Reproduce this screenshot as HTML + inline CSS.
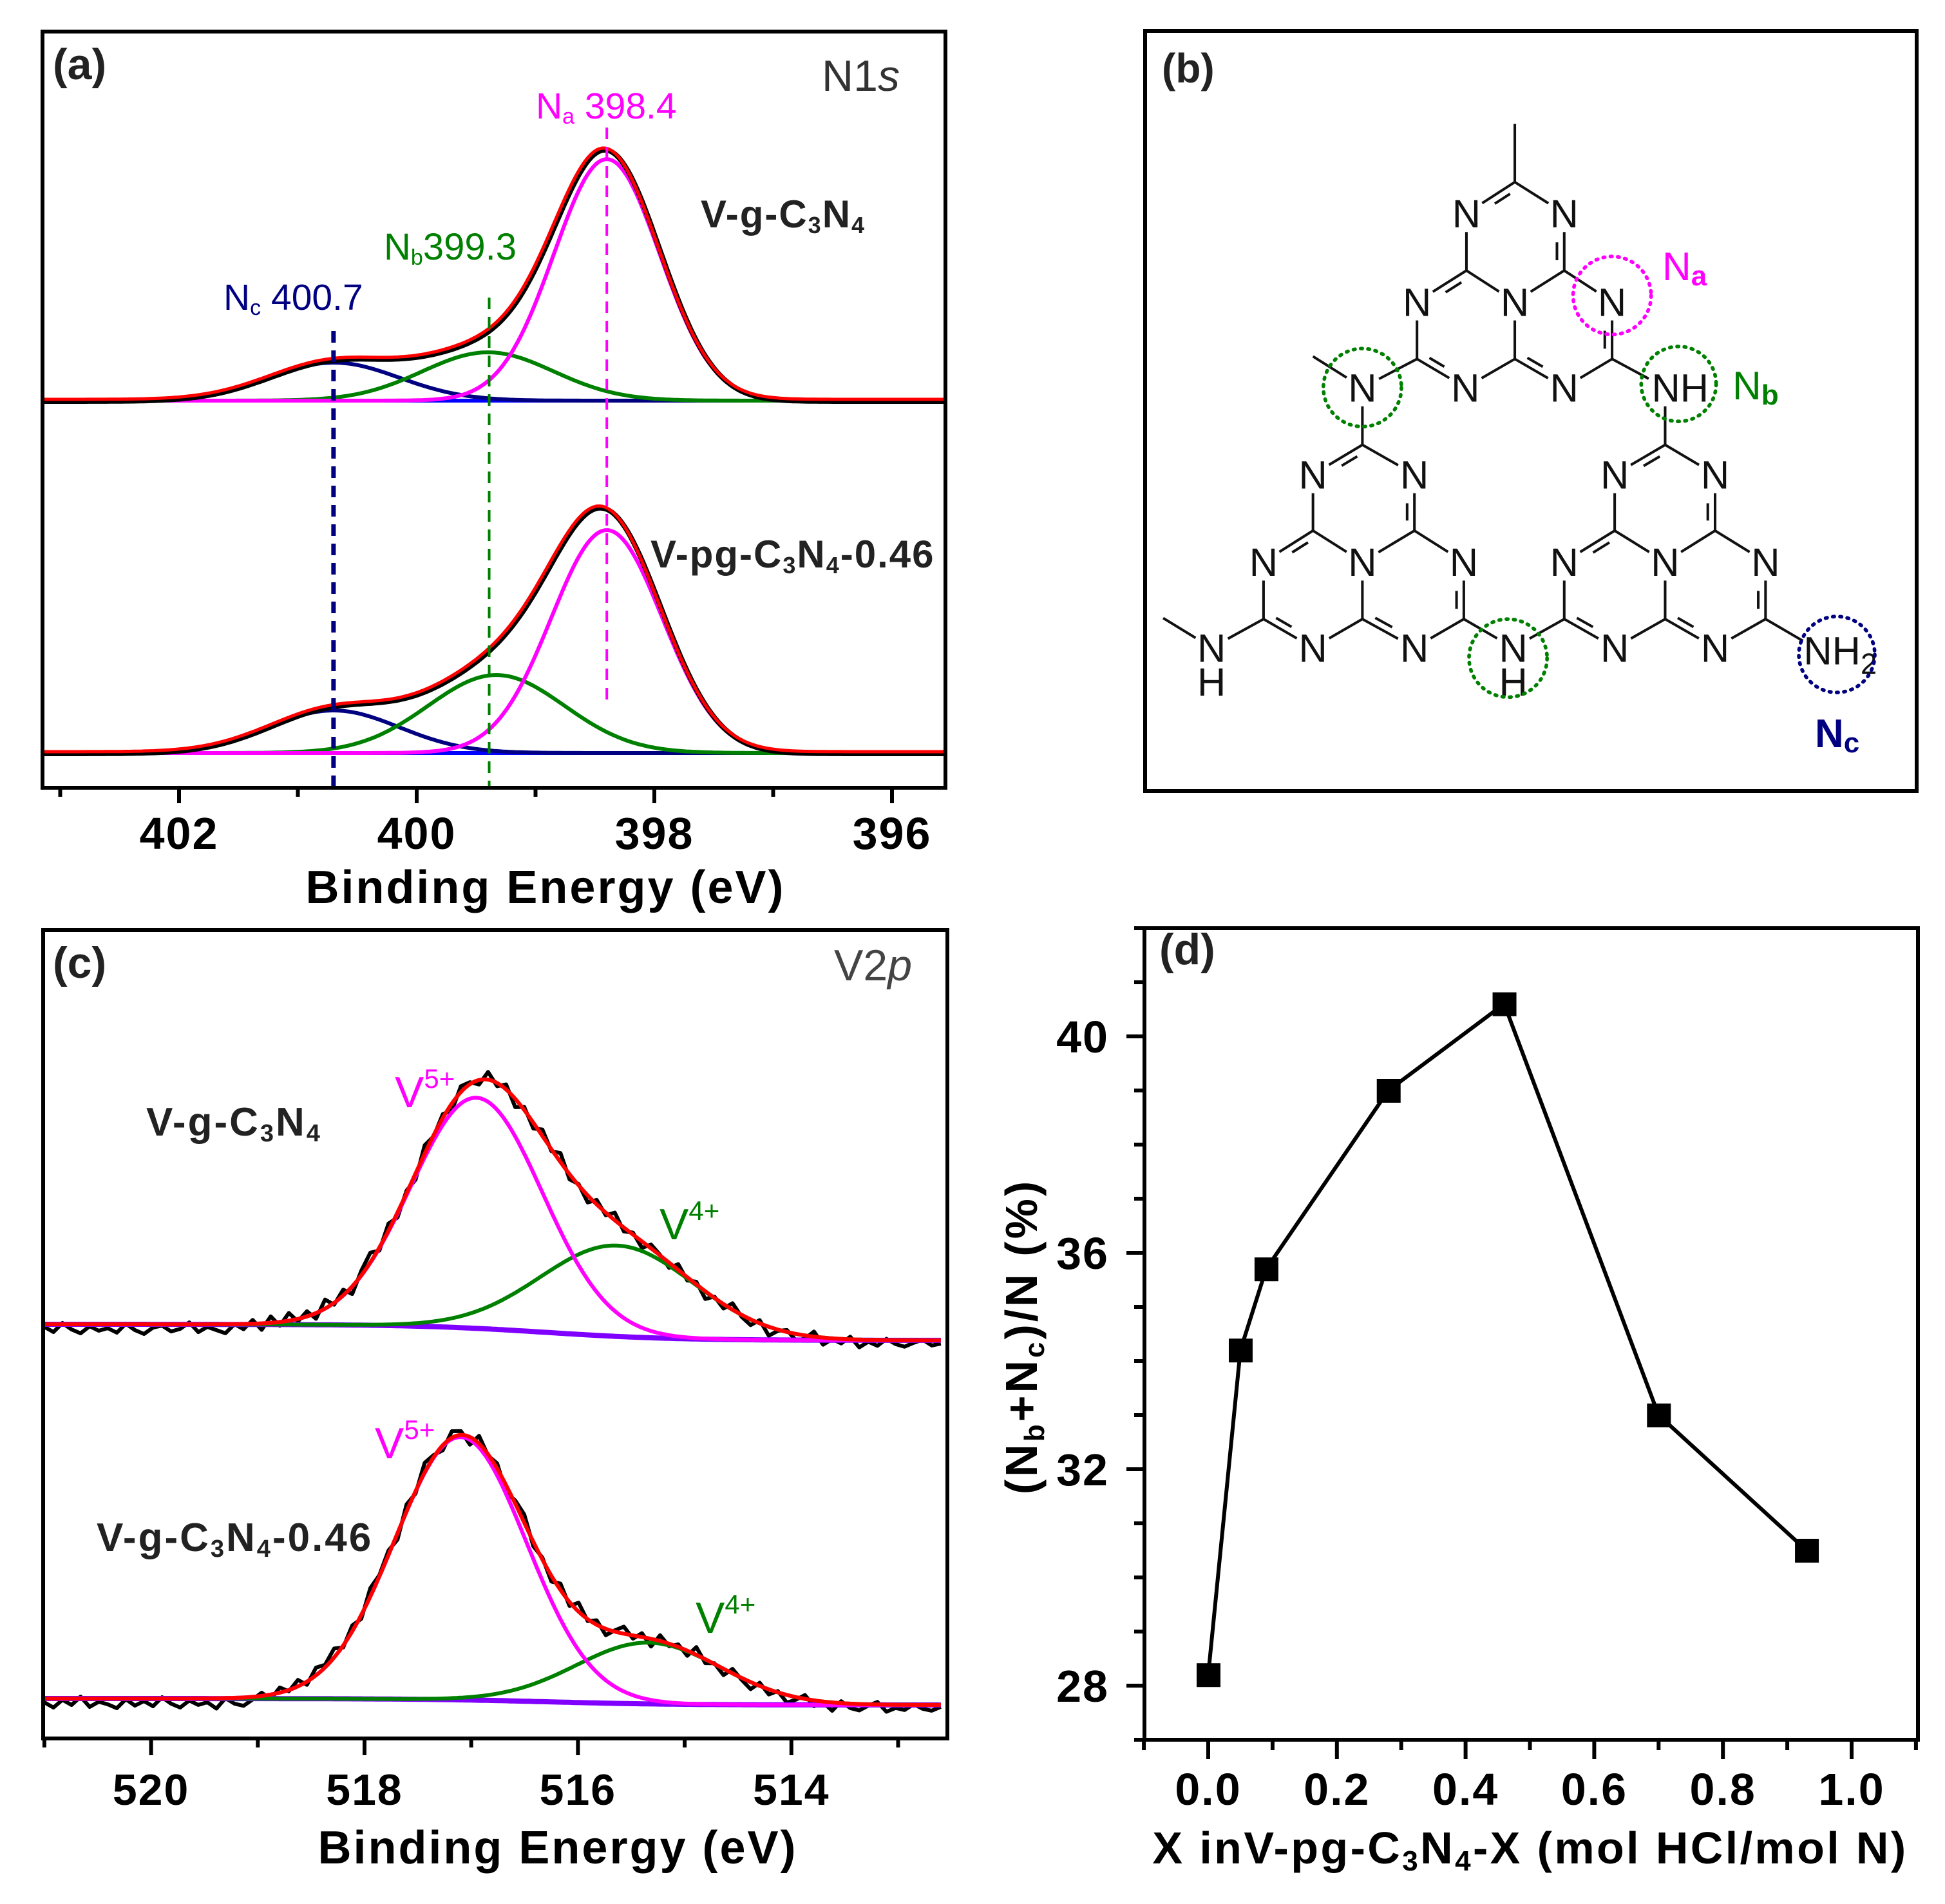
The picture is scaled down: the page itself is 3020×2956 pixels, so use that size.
<!DOCTYPE html>
<html><head><meta charset="utf-8"><style>
html,body{margin:0;padding:0;background:#fff;}
svg{display:block;}
text{font-family:"Liberation Sans",Arial,sans-serif;}
.b{font-weight:bold;}
</style></head>
<body>
<svg id="fig" xmlns="http://www.w3.org/2000/svg" width="3020" height="2956" viewBox="0 0 3020 2956">
<rect width="3020" height="2956" fill="#fff"/>
<g id="pa"></g>
<g id="pb" transform="translate(1760,0) scale(0.8077)"></g>
<g id="pc"></g>
<g id="pd"></g>
</svg>
<script>
const NS="http://www.w3.org/2000/svg";
// ---- Panel (a) data: N1s components [center eV, height px, FWHM eV]
const aTopCenters=[398.4,399.4,400.7];
const aTopHeights=[375,75,59];
const aTopFwhm=[1.05,1.3,1.3];
const aBotCenters=[398.4,399.33,400.7];
const aBotHeights=[346,121,66];
const aBotFwhm=[1.1,1.35,1.3];
const aTicks=[402,400,398,396];
const aMinor=[403,401,399,397];
// ---- Panel (c) data: V2p components
const cTopCenters=[516.95,515.63];
const cTopHeights=[358,141];
const cTopFwhm=[1.45,1.7];
const cBotCenters=[517.1,515.34];
const cBotHeights=[408,95];
const cBotFwhm=[1.45,1.6];
const cTicks=[520,518,516,514];
const cMinor=[521,519,517,515,513];
const cNoiseTop=[4,12,-2,8,14,3,10,6,13,-1,9,15,5,2,11,7,-3,12,4,9,14,0,8,-6,10,-10,6,-12,4,-8,9,-14,3,-9,12,-7,-15,5,-11,8,-4,10,-13,2,-6,11,-9,-3,7,-12,5,-8,13,-5,9,-10,3,-14,8,-2,11,-7,4,-12,6,-3,10,-6,-1,8,-9,5,-4,12,-2,7,-10,3,9,-5,14,2,-3,10,5,-8,11,1,7,-4,12,3,9,-2,6,10,4,-1,8,5];
const cNoiseBot=[6,14,2,10,-3,13,5,9,15,1,11,4,12,-2,8,14,3,10,6,16,0,9,13,4,-5,7,-8,2,-10,5,-12,-4,-14,3,-9,6,-13,-2,-7,10,-11,4,-15,-3,8,-10,-6,12,-12,2,-8,11,-5,-13,7,-3,9,-10,6,-14,3,-7,10,-2,-11,5,-6,12,-9,4,-4,8,-12,6,-1,10,-7,3,11,-5,8,-2,12,4,-6,9,1,13,-3,7,10,2,-4,11,5,8,-1,6,9,3];
// ---- Panel (d) data
const dX=[0,0.05,0.09,0.28,0.46,0.70,0.93];
const dY=[28.2,34.2,35.7,39.0,40.6,33.0,30.5];
const dYTicks=[28,32,36,40];
const dXTicks=[0.0,0.2,0.4,0.6,0.8,1.0];

function el(tag,attrs,parent,txt){const e=document.createElementNS(NS,tag);for(const k in attrs)e.setAttribute(k,attrs[k]);if(txt!==undefined)e.textContent=txt;parent.appendChild(e);return e;}
function gauss(E,c,h,fw){const s=fw/2.3548;return h*Math.exp(-0.5*((E-c)/s)**2);}
function pathFrom(pts){return pts.map((p,i)=>(i?'L':'M')+p[0].toFixed(1)+' '+p[1].toFixed(1)).join(' ');}

// ================= PANEL A =================
(function(){
const g=document.getElementById('pa');
const L=66,T=49,R=1468,B=1223;
const xA=E=>647+(400-E)*184.5;
const Emin=395.55,Emax=403.15;
const spectra=[{base:622,c:aTopCenters,h:aTopHeights,f:aTopFwhm,n:'top'},{base:1169,c:aBotCenters,h:aBotHeights,f:aBotFwhm,n:'bottom'}];
const cols=['#ff00ff','#008000','#000080'];
const cnames=['na','nb','nc'];
spectra.forEach(s=>{
  const N=300;const comp=[[],[],[]],sum=[],base=[];
  for(let i=0;i<=N;i++){const E=Emax-(Emax-Emin)*i/N;const x=xA(E);let t=0;
    for(let k=0;k<3;k++){const v=gauss(E,s.c[k],s.h[k],s.f[k]);t+=v;comp[k].push([x,s.base-v]);}
    sum.push([x,s.base-t]);base.push([x,s.base]);}
  let p=el('path',{d:pathFrom(base),stroke:'#0000ff','stroke-width':6,fill:'none'},g);
  
  for(let k=2;k>=0;k--){p=el('path',{d:pathFrom(comp[k]),stroke:cols[k],'stroke-width':6,fill:'none'},g);
    }
  p=el('path',{d:pathFrom(sum.map(q=>[q[0]+2,q[1]+1])),stroke:'#000','stroke-width':8,fill:'none'},g);
  
  p=el('path',{d:pathFrom(sum.map(q=>[q[0],q[1]-2])),stroke:'#ff0000','stroke-width':5,fill:'none'},g);
  
});
const dl=[[aTopCenters[2],514,1222,'#000080',7,'nc'],[aTopCenters[1]-0.01,462,1222,'#008000',4,'nb'],[aTopCenters[0],198,1093,'#ff00ff',4,'na']];
dl.forEach(d=>{const l=el('line',{x1:xA(d[0]),x2:xA(d[0]),y1:d[1],y2:d[2],stroke:d[3],'stroke-width':d[4],'stroke-dasharray':'18 12'},g);
  });
let f=el('rect',{x:L,y:T,width:R-L,height:B-T,fill:'none',stroke:'#000','stroke-width':6},g);

aTicks.forEach(v=>{const t=el('line',{x1:xA(v),x2:xA(v),y1:B,y2:B+24,stroke:'#000','stroke-width':6},g);
  
  const tl=el('text',{x:xA(v),y:1318,'text-anchor':'middle','font-size':70,class:'b','letter-spacing':2},g,String(v));
  });
aMinor.forEach(v=>{const t=el('line',{x1:xA(v),x2:xA(v),y1:B,y2:B+14,stroke:'#000','stroke-width':6},g);
  });
})();

// ================= PANEL C =================
(function(){
const g=document.getElementById('pc');
const L=67,T=1444,R=1471,B=2699;
const xC=E=>566+(518-E)*165.7;
const Emin=512.6,Emax=521.0;
const spectra=[{bl:2056,br:2081,c:cTopCenters,h:cTopHeights,f:cTopFwhm,nz:cNoiseTop,n:'top'},{bl:2637,br:2647,c:cBotCenters,h:cBotHeights,f:cBotFwhm,nz:cNoiseBot,n:'bottom'}];
spectra.forEach(s=>{
  const bf=E=>s.bl+(s.br-s.bl)/(1+Math.exp((E-516.3)/0.6));
  const N=300;const comp=[[],[]],sum=[],base=[];
  for(let i=0;i<=N;i++){const E=Emax-(Emax-Emin)*i/N;const x=xC(E);const b=bf(E);let t=0;
    for(let k=0;k<2;k++){const v=gauss(E,s.c[k],s.h[k],s.f[k]);t+=v;comp[k].push([x,b-v]);}
    sum.push([x,b-t]);base.push([x,b]);}
  const raw=[];const M=s.nz.length;
  for(let i=0;i<M;i++){const E=Emax-(Emax-Emin)*i/(M-1);const b=bf(E);let t=0;
    for(let k=0;k<2;k++)t+=gauss(E,s.c[k],s.h[k],s.f[k]);raw.push([xC(E),b-t+s.nz[i]]);}
  let p=el('path',{d:pathFrom(raw),stroke:'#000','stroke-width':6,fill:'none','stroke-linejoin':'round'},g);
  
  p=el('path',{d:pathFrom(base),stroke:'#7f00ff','stroke-width':8,fill:'none'},g);
  
  p=el('path',{d:pathFrom(comp[1]),stroke:'#008000','stroke-width':6,fill:'none'},g);
  
  p=el('path',{d:pathFrom(comp[0]),stroke:'#ff00ff','stroke-width':6,fill:'none'},g);
  
  p=el('path',{d:pathFrom(sum),stroke:'#ff0000','stroke-width':6,fill:'none'},g);
  
});
let f=el('rect',{x:L,y:T,width:R-L,height:B-T,fill:'none',stroke:'#000','stroke-width':6},g);

cTicks.forEach(v=>{const t=el('line',{x1:xC(v),x2:xC(v),y1:B,y2:B+26,stroke:'#000','stroke-width':6},g);
  
  const tl=el('text',{x:xC(v),y:2802,'text-anchor':'middle','font-size':68,class:'b','letter-spacing':2},g,String(v));
  });
cMinor.forEach(v=>{const t=el('line',{x1:xC(v),x2:xC(v),y1:B,y2:B+14,stroke:'#000','stroke-width':6},g);
  });
})();

// ================= PANEL D =================
(function(){
const g=document.getElementById('pd');
const L=1777,T=1441,R=2978,B=2701;
const xD=v=>1876+v*999;
const yD=v=>1609-(v-40)*84;
let f=el('rect',{x:L,y:T,width:R-L,height:B-T,fill:'none',stroke:'#000','stroke-width':6},g);

for(let v=27;v<=42;v++){if(yD(v)<T)continue;const maj=dYTicks.includes(v);
  const t=el('line',{x1:L-(maj?28:16),x2:L,y1:yD(v),y2:yD(v),stroke:'#000','stroke-width':6},g);
  }
dYTicks.forEach(v=>{const tl=el('text',{x:1722,y:yD(v)+25,'text-anchor':'end','font-size':70,class:'b','letter-spacing':2},g,String(v));
  });
for(let i=-1;i<=11;i++){const v=i/10;const maj=(i%2===0&&i>=0&&i<=10);
  const t=el('line',{x1:xD(v),x2:xD(v),y1:B,y2:B+(maj?30:16),stroke:'#000','stroke-width':6},g);
  }
dXTicks.forEach(v=>{const tl=el('text',{x:xD(v),y:2802,'text-anchor':'middle','font-size':70,class:'b','letter-spacing':2},g,v.toFixed(1));
  });
const ln=el('path',{d:pathFrom(dX.map((x,i)=>[xD(x),yD(dY[i])])),stroke:'#000','stroke-width':6,fill:'none'},g);

dX.forEach((x,i)=>{const r=el('rect',{x:xD(x)-18,y:yD(dY[i])-18,width:37,height:37,fill:'#000'},g);
  });
})();

// ================= PANEL B (structure) =================
(function(){
const g=document.getElementById('pb');
const A={
M0:[733,238,''],T0:[733,350,''],T1:[640,410,'N'],T2:[828,410,'N'],T3:[640,520,''],T4:[828,520,''],
T5:[545,580,'N'],T6:[733,580,'N'],T7:[920,580,'N'],T8:[545,690,''],T9:[733,690,''],T10:[920,690,''],
T11:[638,745,'N'],T12:[828,745,'N'],BL:[440,745,'N'],BLm:[345,685,''],BR:[1022,745,'NH'],
L0:[440,855,''],L1:[345,912,'N'],L2:[540,912,'N'],L3:[345,1020,''],L4:[540,1020,''],
L5:[250,1080,'N'],L6:[440,1080,'N'],L7:[635,1080,'N'],L8:[250,1190,''],L9:[440,1190,''],L10:[635,1190,''],
L11:[345,1245,'N'],L12:[540,1245,'N'],LN:[150,1245,'N'],LNm:[57,1188,''],MN:[730,1245,'N'],
R0:[1022,855,''],R1:[925,912,'N'],R2:[1118,912,'N'],R3:[925,1020,''],R4:[1118,1020,''],
R5:[828,1080,'N'],R6:[1022,1080,'N'],R7:[1215,1080,'N'],R8:[828,1190,''],R9:[1022,1190,''],R10:[1215,1190,''],
R11:[925,1245,'N'],R12:[1118,1245,'N'],NH2:[1318,1250,'NH2']};
const bonds=[['M0','T0'],['T0','T1',1],['T0','T2'],['T1','T3'],['T2','T4',1],['T3','T5',1],['T3','T6'],['T4','T6'],['T4','T7'],
['T5','T8'],['T6','T9'],['T7','T10',1],['T8','T11',1],['T11','T9'],['T9','T12',1],['T12','T10'],['T8','BL'],['BL','BLm'],['T10','BR'],
['BL','L0'],['BR','R0'],['L10','MN'],['MN','R8'],['L8','LN'],['LN','LNm'],['R10','NH2']];
['L','R'].forEach(p=>{[[0,1,1],[0,2],[1,3],[2,4,1],[3,5,1],[3,6],[4,6],[4,7],[5,8],[6,9],[7,10,1],[8,11,1],[11,9],[9,12,1],[12,10]].forEach(b=>bonds.push([p+b[0],p+b[1],b[2]]));});
bonds.forEach(b=>{const a=A[b[0]],c=A[b[1]];let x1=a[0],y1=a[1],x2=c[0],y2=c[1];
  const dx=x2-x1,dy=y2-y1,len=Math.hypot(dx,dy),ux=dx/len,uy=dy/len;
  const s1=a[2]?36:0,s2=c[2]?36:0;
  x1+=ux*s1;y1+=uy*s1;x2-=ux*s2;y2-=uy*s2;
  let l=el('line',{x1,y1,x2,y2,stroke:'#111','stroke-width':5},g);
  
  if(b[2]){let nx=-uy,ny=ux;const mx=(x1+x2)/2,my=(y1+y2)/2;
    const rc=b[0][0]==='L'?[440,1135]:b[0][0]==='R'?[1022,1135]:[733,635];
    if((rc[0]-mx)*nx+(rc[1]-my)*ny<0){nx=-nx;ny=-ny;}
    const o=14,sh=0.18;
    l=el('line',{x1:x1+dx*sh+nx*o,y1:y1+dy*sh+ny*o,x2:x2-dx*sh+nx*o,y2:y2-dy*sh+ny*o,stroke:'#111','stroke-width':5},g);
    }
});
for(const k in A){const a=A[k];if(!a[2])continue;
  let t;
  if(a[2]==='N'){t=el('text',{x:a[0],y:a[1]+27,'text-anchor':'middle','font-size':76,fill:'#111'},g,'N');}
  else if(a[2]==='NH'){t=el('text',{x:a[0]-26,y:a[1]+27,'font-size':76,fill:'#111'},g,'NH');}
  else {t=el('text',{x:a[0]-30,y:a[1]+27,'font-size':76,fill:'#111'},g,'NH');el('tspan',{dy:18,'font-size':56},t,'2');}
  }
[[150,1310],[730,1310]].forEach(h=>{const t=el('text',{x:h[0],y:h[1]+27,'text-anchor':'middle','font-size':76,fill:'#111'},g,'H');
  });
const circ=[[920,568,75,'#ff00ff','circle-na'],[440,745,75,'#008000','circle-nb-1'],[1048,738,72,'#008000','circle-nb-2'],[720,1265,75,'#008000','circle-nb-3'],[1352,1258,73,'#000080','circle-nc']];
circ.forEach(c=>{const e=el('circle',{cx:c[0],cy:c[1],r:c[2],fill:'none',stroke:c[3],'stroke-width':7,'stroke-dasharray':'3 11','stroke-linecap':'round'},g);
  });
})();
</script>
<script>
(function(){
const s=document.getElementById('fig');
const html=`
<text x="82" y="123" font-size="68" class="b" fill="#222">(a)</text>
<text x="1276" y="141" font-size="68" fill="#333">N1<tspan font-style="italic">s</tspan></text>
<text x="832" y="184" font-size="57" fill="#ff00ff">N<tspan font-size="34" dy="8">a</tspan><tspan dy="-8"> 398.4</tspan></text>
<text x="596" y="403" font-size="58" fill="#008000">N<tspan font-size="34" dy="8">b</tspan><tspan dy="-8">399.3</tspan></text>
<text x="347" y="481" font-size="57" fill="#000080">N<tspan font-size="34" dy="8">c</tspan><tspan dy="-8"> 400.7</tspan></text>
<text x="1088" y="353" font-size="60" class="b" fill="#222" letter-spacing="2">V-g-C<tspan font-size="36" dy="9">3</tspan><tspan dy="-9">N</tspan><tspan font-size="36" dy="9">4</tspan></text>
<text x="1010" y="881" font-size="60" class="b" fill="#222" letter-spacing="2">V-pg-C<tspan font-size="36" dy="9">3</tspan><tspan dy="-9">N</tspan><tspan font-size="36" dy="9">4</tspan><tspan dy="-9">-0.46</tspan></text>
<text x="847" y="1402" font-size="72" class="b" text-anchor="middle" letter-spacing="3">Binding Energy (eV)</text>

<rect x="1778" y="48" width="1198" height="1180" fill="none" stroke="#000" stroke-width="6"/>
<text x="1804" y="128" font-size="64" class="b" fill="#222">(b)</text>
<text x="2581" y="435" font-size="62" fill="#ff00ff">N<tspan font-size="44" dy="8" class="b">a</tspan></text>
<text x="2690" y="620" font-size="62" fill="#008000">N<tspan font-size="44" dy="8" class="b">b</tspan></text>
<text x="2818" y="1160" font-size="62" class="b" fill="#000080">N<tspan font-size="44" dy="8">c</tspan></text>

<text x="82" y="1518" font-size="68" class="b" fill="#222">(c)</text>
<text x="1295" y="1522" font-size="68" fill="#444">V2<tspan font-style="italic">p</tspan></text>
<text x="613" y="1719" font-size="68" fill="#ff00ff">V<tspan font-size="42" dy="-30">5+</tspan></text>
<text x="1024" y="1924" font-size="68" fill="#008000">V<tspan font-size="42" dy="-30">4+</tspan></text>
<text x="582" y="2264" font-size="68" fill="#ff00ff">V<tspan font-size="42" dy="-30">5+</tspan></text>
<text x="1080" y="2535" font-size="68" fill="#008000">V<tspan font-size="42" dy="-30">4+</tspan></text>
<text x="227" y="1763" font-size="62" class="b" fill="#222" letter-spacing="3">V-g-C<tspan font-size="38" dy="9">3</tspan><tspan dy="-9">N</tspan><tspan font-size="38" dy="9">4</tspan></text>
<text x="150" y="2408" font-size="62" class="b" fill="#222" letter-spacing="3">V-g-C<tspan font-size="38" dy="9">3</tspan><tspan dy="-9">N</tspan><tspan font-size="38" dy="9">4</tspan><tspan dy="-9">-0.46</tspan></text>
<text x="866" y="2893" font-size="72" class="b" text-anchor="middle" letter-spacing="3">Binding Energy (eV)</text>

<text x="1800" y="1497" font-size="68" class="b" fill="#222">(d)</text>
<text x="0" y="0" font-size="70" class="b" text-anchor="middle" letter-spacing="4" transform="translate(1610,2075) rotate(-90)">(N<tspan font-size="44" dy="11">b</tspan><tspan dy="-11">+N</tspan><tspan font-size="44" dy="11">c</tspan><tspan dy="-11">)/N (%)</tspan></text>
<text x="2376" y="2893" font-size="70" class="b" text-anchor="middle" letter-spacing="3.4">X inV-pg-C<tspan font-size="44" dy="11">3</tspan><tspan dy="-11">N</tspan><tspan font-size="44" dy="11">4</tspan><tspan dy="-11">-X (mol HCl/mol N)</tspan></text>`;
s.insertAdjacentHTML('beforeend',html);
})();
</script>
</body></html>
